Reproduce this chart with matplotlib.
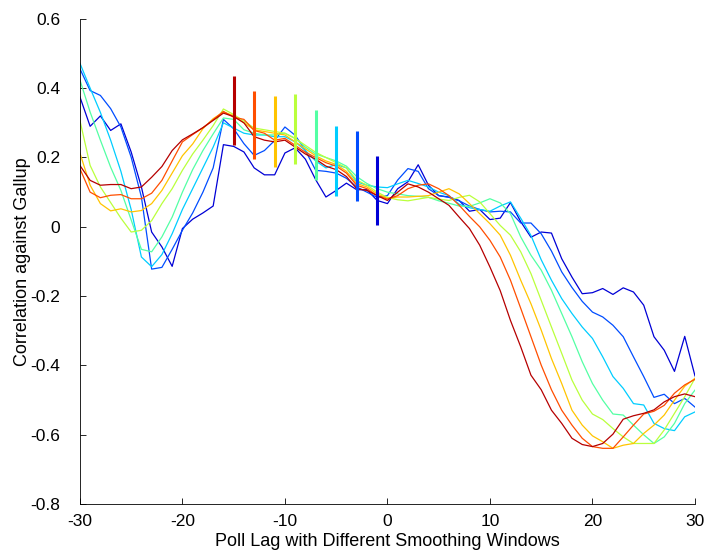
import numpy as np
import matplotlib
matplotlib.use("Agg")
import matplotlib.pyplot as plt

plt.rcParams['font.family'] = ['Liberation Sans', 'DejaVu Sans']
plt.rcParams['axes.unicode_minus'] = False

# -------------------------------------------------------------------- #
lags = list(range(-30, 31))

# one curve per smoothing window (smallest window first)
corr_w1 = [0.375, 0.29, 0.32, 0.278, 0.297, 0.216, 0.115, -0.015, -0.058, -0.114, -0.005, 0.022, 0.04, 0.06, 0.237, 0.232,
           0.216, 0.17, 0.15, 0.15, 0.213, 0.228, 0.195, 0.136, 0.086, 0.105, 0.126, 0.107, 0.107, 0.076, 0.067,
           0.11, 0.13, 0.179, 0.12, 0.09, 0.086, 0.076, 0.045, 0.05, 0.021, 0.025, 0.07, 0.015, -0.03, -0.015,
           -0.018, -0.092, -0.145, -0.193, -0.19, -0.178, -0.195, -0.176, -0.188, -0.226, -0.317, -0.356, -0.417, -0.316, -0.43]
corr_w2 = [0.456, 0.393, 0.379, 0.341, 0.288, 0.201, 0.086, -0.122, -0.117, -0.065, -0.01, 0.04, 0.10, 0.17, 0.31, 0.283,
           0.24, 0.206, 0.22, 0.249, 0.288, 0.264, 0.22, 0.163, 0.16, 0.155, 0.14, 0.115, 0.10, 0.085, 0.09,
           0.135, 0.168, 0.16, 0.11, 0.09, 0.085, 0.075, 0.06, 0.05, 0.043, 0.045, 0.043, 0.011, 0.011, -0.02,
           -0.07, -0.13, -0.175, -0.215, -0.246, -0.26, -0.284, -0.317, -0.375, -0.432, -0.492, -0.483, -0.51, -0.495, -0.52]
corr_w3 = [0.472, 0.40, 0.33, 0.25, 0.16, 0.05, -0.087, -0.115, -0.08, -0.02, 0.05, 0.11, 0.17, 0.23, 0.30, 0.285,
           0.27, 0.265, 0.265, 0.26, 0.26, 0.245, 0.22, 0.19, 0.17, 0.18, 0.17, 0.13, 0.12, 0.115, 0.113,
           0.124, 0.134, 0.125, 0.115, 0.10, 0.09, 0.065, 0.055, 0.05, 0.045, 0.06, 0.072, 0.025, -0.025, -0.095,
           -0.154, -0.207, -0.25, -0.289, -0.322, -0.375, -0.432, -0.466, -0.51, -0.514, -0.567, -0.582, -0.588, -0.548, -0.534]
corr_w4 = [0.424, 0.331, 0.25, 0.172, 0.105, 0.02, -0.065, -0.072, -0.029, 0.028, 0.10, 0.165, 0.22, 0.268, 0.314, 0.31,
           0.28, 0.27, 0.265, 0.265, 0.27, 0.255, 0.23, 0.21, 0.20, 0.19, 0.175, 0.145, 0.125, 0.11, 0.10,
           0.095, 0.09, 0.088, 0.085, 0.075, 0.068, 0.06, 0.059, 0.069, 0.081, 0.069, 0.038, -0.029, -0.082, -0.125,
           -0.183, -0.25, -0.317, -0.389, -0.452, -0.5, -0.54, -0.543, -0.572, -0.6, -0.625, -0.606, -0.567, -0.51, -0.471]
corr_w5 = [0.307, 0.177, 0.115, 0.07, 0.025, -0.015, -0.01, 0.018, 0.067, 0.11, 0.163, 0.21, 0.25, 0.292, 0.34, 0.324,
           0.305, 0.285, 0.28, 0.275, 0.27, 0.255, 0.235, 0.215, 0.20, 0.185, 0.17, 0.135, 0.12, 0.10, 0.085,
           0.078, 0.075, 0.08, 0.085, 0.08, 0.076, 0.085, 0.091, 0.072, 0.038, 0.004, -0.024, -0.072, -0.135, -0.212,
           -0.289, -0.365, -0.442, -0.5, -0.54, -0.556, -0.582, -0.606, -0.625, -0.625, -0.625, -0.586, -0.538, -0.49, -0.437]
corr_w6 = [0.213, 0.12, 0.067, 0.046, 0.052, 0.043, 0.047, 0.067, 0.105, 0.155, 0.205, 0.239, 0.283, 0.312, 0.331, 0.321,
           0.30, 0.28, 0.275, 0.27, 0.265, 0.245, 0.225, 0.205, 0.19, 0.18, 0.16, 0.125, 0.115, 0.095, 0.082,
           0.086, 0.086, 0.088, 0.09, 0.10, 0.11, 0.095, 0.067, 0.038, 0.009, -0.024, -0.082, -0.154, -0.222, -0.298,
           -0.38, -0.452, -0.529, -0.572, -0.603, -0.62, -0.639, -0.63, -0.625, -0.596, -0.572, -0.543, -0.5, -0.46, -0.437]
corr_w7 = [0.168, 0.10, 0.084, 0.091, 0.093, 0.081, 0.081, 0.097, 0.134, 0.19, 0.245, 0.266, 0.286, 0.309, 0.333, 0.316,
           0.31, 0.278, 0.27, 0.25, 0.255, 0.235, 0.215, 0.20, 0.185, 0.175, 0.155, 0.12, 0.11, 0.09, 0.08,
           0.09, 0.11, 0.12, 0.124, 0.11, 0.09, 0.062, 0.03, 0.0, -0.039, -0.087, -0.154, -0.235, -0.317, -0.399,
           -0.47, -0.529, -0.572, -0.61, -0.634, -0.639, -0.639, -0.606, -0.572, -0.54, -0.532, -0.515, -0.48, -0.456, -0.44]
corr_w8 = [0.177, 0.134, 0.12, 0.122, 0.122, 0.11, 0.115, 0.143, 0.174, 0.22, 0.251, 0.268, 0.286, 0.307, 0.328, 0.318,
           0.30, 0.26, 0.25, 0.245, 0.25, 0.23, 0.21, 0.195, 0.175, 0.165, 0.145, 0.11, 0.105, 0.09, 0.076,
           0.10, 0.124, 0.115, 0.10, 0.081, 0.062, 0.028, -0.005, -0.053, -0.116, -0.184, -0.27, -0.346, -0.428, -0.47,
           -0.529, -0.567, -0.61, -0.628, -0.634, -0.625, -0.598, -0.555, -0.545, -0.538, -0.528, -0.505, -0.49, -0.482, -0.49]

# peak lag of each window with its interval (largest window first)
bar_lags = [-15, -13, -11, -9, -7, -5, -3, -1]
bar_low = [0.235, 0.195, 0.174, 0.182, 0.136, 0.088, 0.074, 0.005]
bar_high = [0.434, 0.391, 0.376, 0.384, 0.336, 0.290, 0.275, 0.203]

xticks = [-30, -20, -10, 0, 10, 20, 30]
yticks = [-0.8, -0.6, -0.4, -0.2, 0, 0.2, 0.4, 0.6]
ytick_labels = ['-0.8', '-0.6', '-0.4', '-0.2', '0', '0.2', '0.4', '0.6']


# -------------------------------------------------------------------- #
def main():
    curves = [corr_w1, corr_w2, corr_w3, corr_w4, corr_w5, corr_w6, corr_w7, corr_w8]
    colors = plt.cm.jet(np.linspace(0.075, 0.95, len(curves)))

    fig = plt.figure(figsize=(7.07, 5.54), dpi=100)
    ax = fig.add_axes([0.113, 0.090, 0.870, 0.876])

    for curve, c in zip(curves, colors):
        ax.plot(lags, curve, color=c, lw=0.9)

    bar_colors = colors[::-1]
    ax.vlines(bar_lags, bar_low, bar_high, colors=bar_colors, lw=2.2, zorder=5)

    ax.set_xlim(-30, 30)
    ax.set_ylim(-0.8, 0.6)
    ax.set_xticks(xticks)
    ax.set_yticks(yticks)
    ax.set_yticklabels(ytick_labels)
    ax.tick_params(direction='in', length=4, width=0.6, labelsize=12.5)
    ax.tick_params(axis='y', pad=14)
    ax.tick_params(axis='x', pad=7)
    for side in ['top', 'right']:
        ax.spines[side].set_visible(False)
    for side in ['left', 'bottom']:
        ax.spines[side].set_linewidth(0.6)
    ax.set_xlabel("Poll Lag with Different Smoothing Windows", fontsize=13, labelpad=3)
    ax.set_ylabel("Correlation against Gallup", fontsize=13, labelpad=0)

    fig.savefig("out.png", dpi=100)


if __name__ == "__main__":
    main()
